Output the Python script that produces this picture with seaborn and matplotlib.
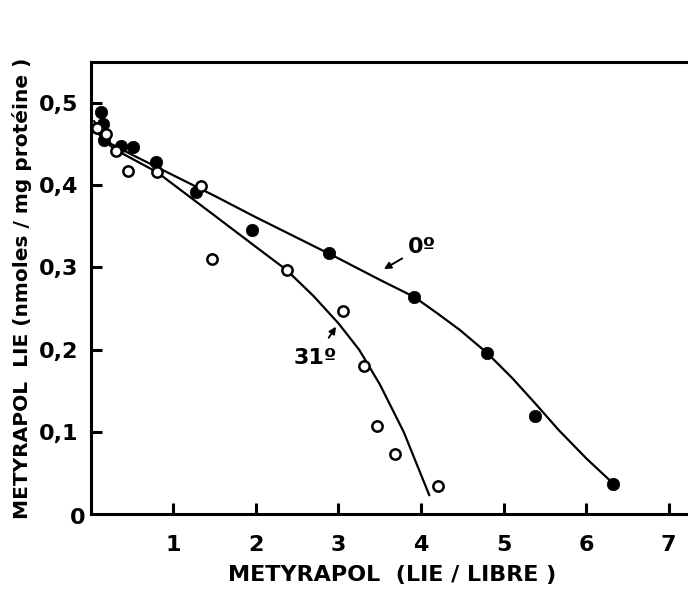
import matplotlib
matplotlib.use("Agg")
import matplotlib.pyplot as plt
import seaborn as sns
import pandas as pd

# ── DATA ──────────────────────────────────────────────────────────────────────
# 0° : filled circles
x_0 = [0.12, 0.15, 0.16, 0.37, 0.51, 0.79, 1.27, 1.95, 2.89, 3.92, 4.80, 5.38, 6.33]
y_0 = [0.489, 0.474, 0.455, 0.448, 0.446, 0.428, 0.392, 0.345, 0.318, 0.264, 0.196, 0.120, 0.037]

# 31° : open circles
x_31 = [0.08, 0.18, 0.31, 0.45, 0.80, 1.34, 1.47, 2.38, 3.06, 3.31, 3.47, 3.69, 4.21]
y_31 = [0.470, 0.462, 0.442, 0.417, 0.416, 0.399, 0.310, 0.297, 0.247, 0.180, 0.107, 0.073, 0.034]

# hand-drawn fitting curves (traced)
cx_0 = [0.04, 0.12, 0.25, 0.50, 1.0, 1.5, 2.0, 2.5, 3.0, 3.5, 3.92, 4.20, 4.47, 4.80, 5.10, 5.38, 5.67, 6.00, 6.33]
cy_0 = [0.478, 0.460, 0.450, 0.437, 0.412, 0.387, 0.361, 0.336, 0.311, 0.285, 0.264, 0.244, 0.224, 0.196, 0.166, 0.135, 0.102, 0.068, 0.037]

cx_31 = [0.04, 0.15, 0.30, 0.80, 1.5, 2.0, 2.37, 2.7, 3.0, 3.25, 3.5, 3.79, 4.10]
cy_31 = [0.470, 0.455, 0.443, 0.416, 0.363, 0.325, 0.297, 0.265, 0.232, 0.200, 0.158, 0.100, 0.023]

x_ticks = [1, 2, 3, 4, 5, 6, 7]
y_ticks = [0.1, 0.2, 0.3, 0.4, 0.5]
y_ticklabels = ["0,1", "0,2", "0,3", "0,4", "0,5"]

pts_0 = pd.DataFrame({"x": x_0, "y": y_0})
pts_31 = pd.DataFrame({"x": x_31, "y": y_31})
crv_0 = pd.DataFrame({"x": cx_0, "y": cy_0})
crv_31 = pd.DataFrame({"x": cx_31, "y": cy_31})

# ── STYLE ─────────────────────────────────────────────────────────────────────
sns.set_theme(style="ticks")
plt.rcParams.update({
    "font.family": ["DejaVu Sans"],
    "font.weight": "bold",
    "text.color": "black",
    "axes.edgecolor": "black",
    "axes.labelcolor": "black",
    "xtick.color": "black",
    "ytick.color": "black",
})

fig = plt.figure(figsize=(6.88, 5.89), dpi=100)
ax = fig.add_axes([0.132, 0.127, 0.876, 0.768])

sns.lineplot(data=crv_0, x="x", y="y", sort=False, color="black", lw=1.6, ax=ax)
sns.lineplot(data=crv_31, x="x", y="y", sort=False, color="black", lw=1.6, ax=ax)
sns.scatterplot(data=pts_0, x="x", y="y", color="black", s=80,
                edgecolor="black", linewidth=0.5, zorder=3, ax=ax)
sns.scatterplot(data=pts_31, x="x", y="y", facecolor="white", s=55,
                edgecolor="black", linewidth=1.8, zorder=3, ax=ax)

ax.set_xlim(0, 7.3)
ax.set_ylim(0, 0.55)
ax.set_xticks(x_ticks)
ax.set_xticklabels([str(t) for t in x_ticks])
ax.set_yticks(y_ticks)
ax.set_yticklabels(y_ticklabels)
ax.tick_params(direction="in", length=8, width=2.2, labelsize=16)
ax.tick_params(axis="x", pad=15)
ax.tick_params(axis="y", pad=9)
for s in ["left", "bottom", "top"]:
    ax.spines[s].set_linewidth(2.2)
ax.spines["right"].set_visible(False)

ax.annotate("0", xy=(0, 0), xytext=(-4, -3), textcoords="offset points",
            ha="right", va="center", fontsize=16, fontweight="bold")

ax.set_xlabel("METYRAPOL  (LIE / LIBRE )", fontsize=16, fontweight="bold", labelpad=7)
ax.set_ylabel("METYRAPOL  LIE (nmoles / mg protéine )", fontsize=14.5,
              fontweight="bold", labelpad=5)

ax.annotate("0º", xy=(3.55, 0.298), xytext=(3.84, 0.325), fontsize=16,
            fontweight="bold", ha="left", va="center",
            arrowprops=dict(arrowstyle="-|>", color="black", lw=1.4,
                            shrinkA=2, shrinkB=0, mutation_scale=10))
ax.annotate("31º", xy=(2.97, 0.228), xytext=(2.72, 0.190), fontsize=16,
            fontweight="bold", ha="center", va="center",
            arrowprops=dict(arrowstyle="-|>", color="black", lw=1.4,
                            shrinkA=6, shrinkB=0, mutation_scale=10))

fig.savefig("out.png", dpi=100)
